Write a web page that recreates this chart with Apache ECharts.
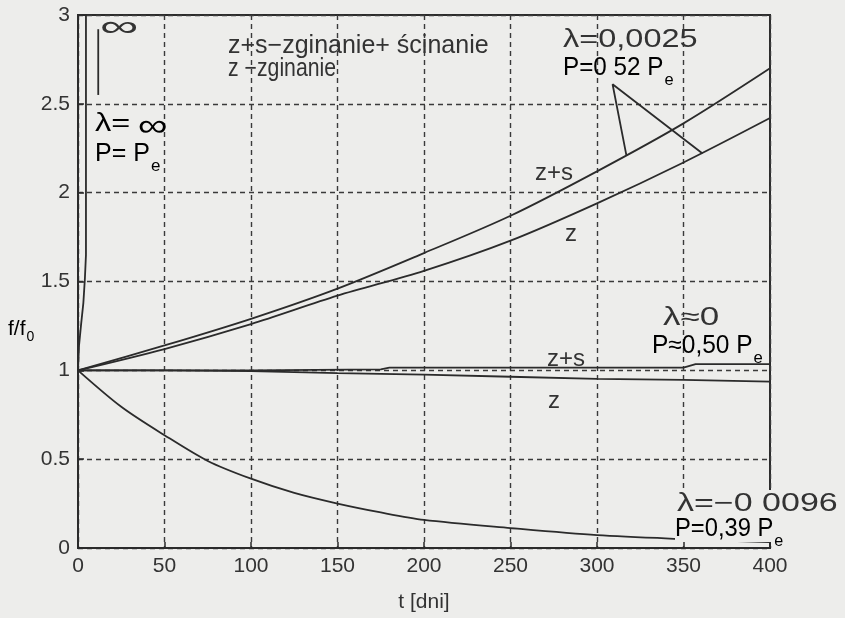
<!DOCTYPE html>
<html>
<head>
<meta charset="utf-8">
<script src="https://cdn.jsdelivr.net/npm/echarts@6/dist/echarts.min.js"></script>
<style>
  html, body { margin: 0; padding: 0; background: #ededeb; }
  #chart { width: 845px; height: 618px; }
</style>
</head>
<body>
<div id="chart"></div>
<script>
// ---- data ----
// lambda = 0.0025, P = 0.52 Pe
const tGrowth  = [0, 50, 100, 150, 200, 250, 300, 350, 400];
const zsGrowth = [1, 1.14, 1.29, 1.46, 1.66, 1.87, 2.12, 2.39, 2.70];
const zGrowth  = [1, 1.12, 1.26, 1.42, 1.56, 1.73, 1.94, 2.17, 2.42];
// lambda ~ 0, P ~ 0.50 Pe
const tZeroZs = [0, 100, 175, 180, 350, 357, 400];
const zsZero  = [1, 1.0, 1.005, 1.015, 1.015, 1.035, 1.035];
const tZeroZ  = [0, 50, 100, 150, 200, 250, 300, 350, 400];
const zZero   = [1, 1.0, 0.995, 0.984, 0.976, 0.964, 0.952, 0.946, 0.936];
// lambda = -0.0096, P = 0.39 Pe
const tDecay = [0, 25, 50, 75, 100, 125, 150, 175, 200, 250, 300, 350, 400];
const fDecay = [1, 0.795, 0.635, 0.49, 0.39, 0.31, 0.25, 0.2, 0.158, 0.112, 0.072, 0.05, 0.033];
// lambda = infinity, P = Pe
const tInf = [0, 0.6, 1.8, 3.1, 4.0, 4.6, 4.6];
const fInf = [1, 1.14, 1.26, 1.38, 1.52, 1.65, 3.0];
// "to infinity" marker and the leader lines of the 0.0025 label
const infMarkT = [11.7, 11.7];
const infMarkF = [2.55, 2.92];
const leaderT = [317, 309, 361];
const leaderF = [2.21, 2.61, 2.22];
// axes
const xMin = 0, xMax = 400, xStep = 50;
const yMin = 0, yMax = 3, yStep = 0.5;

const zip = (a, b) => a.map((v, i) => [v, b[i]]);

const INK = '#2b2b2b';
const TXT = '#333333';
const BG = '#ededeb';
const FONT = '"Liberation Sans", Arial, sans-serif';

function lineSeries(name, data, smooth) {
  return {
    name: name, type: 'line', data: data, showSymbol: false, smooth: smooth || false,
    lineStyle: { color: INK, width: 1.8 }, silent: true, z: 3
  };
}

const subRich = {
  a: { fontSize: 25, fontFamily: FONT, color: TXT },
  s: { fontSize: 17, fontFamily: FONT, color: TXT, padding: [23, 0, 0, 1] }
};
const subRichBg = {
  a: { fontSize: 25, fontFamily: FONT, color: TXT, backgroundColor: BG },
  s: { fontSize: 17, fontFamily: FONT, color: TXT, padding: [23, 0, 0, 1] }
};

function txt(text, x, y, size, scaleX, extra) {
  return {
    type: 'text', x: x, y: y, scaleX: scaleX || 1, z: 100,
    style: Object.assign({
      text: text, fill: TXT, font: size + 'px ' + FONT,
      align: 'left', verticalAlign: 'middle'
    }, extra || {})
  };
}
function subTxt(text, x, y, scaleX, rich) {
  return {
    type: 'text', x: x, y: y, scaleX: scaleX || 1, z: 100,
    style: { text: text, align: 'left', verticalAlign: 'middle', rich: rich || subRich }
  };
}

const chart = echarts.init(document.getElementById('chart'), null, { renderer: 'canvas' });
chart.setOption({
  backgroundColor: BG,
  animation: false,
  grid: { left: 78, right: 75, top: 15, bottom: 57, show: true, borderColor: INK, borderWidth: 2, backgroundColor: 'transparent' },
  xAxis: {
    type: 'value', min: xMin, max: xMax, interval: xStep,
    name: 't [dni]', nameLocation: 'middle', nameGap: 44,
    nameTextStyle: { fontSize: 21, fontFamily: FONT, color: TXT },
    axisLine: { show: true, lineStyle: { color: INK, width: 2 } },
    axisTick: { show: true, inside: true, length: 6, lineStyle: { color: INK, width: 1.5 } },
    axisLabel: { fontSize: 21, fontFamily: FONT, color: TXT, margin: 8 },
    splitLine: { show: true, lineStyle: { color: '#3a3a3a', width: 1.4, type: [5, 4] } }
  },
  yAxis: {
    type: 'value', min: yMin, max: yMax, interval: yStep,
    axisLine: { show: true, lineStyle: { color: INK, width: 2 } },
    axisTick: { show: true, inside: true, length: 6, lineStyle: { color: INK, width: 1.5 } },
    axisLabel: { fontSize: 21, fontFamily: FONT, color: TXT, margin: 8 },
    splitLine: { show: true, lineStyle: { color: '#3a3a3a', width: 1.4, type: [5, 4] } }
  },
  series: [
    lineSeries('lambda=inf', zip(tInf, fInf), false),
    lineSeries('inf marker', zip(infMarkT, infMarkF), false),
    lineSeries('z+s 0.0025', zip(tGrowth, zsGrowth), 0.3),
    lineSeries('z 0.0025', zip(tGrowth, zGrowth), 0.3),
    lineSeries('leader', zip(leaderT, leaderF), false),
    lineSeries('z+s 0', zip(tZeroZs, zsZero), false),
    lineSeries('z 0', zip(tZeroZ, zZero), false),
    lineSeries('-0.0096', zip(tDecay, fDecay), 0.3)
  ],
  graphic: [
    txt('∞', 100, 27.5, 30, 1.8),
    txt('z+s−zginanie+ ścinanie', 228, 46.5, 25, 1.0),
    txt('z −zginanie', 228, 69.5, 25, 0.85),
    {
      type: 'text', x: 95, y: 124.5, scaleX: 1.3, z: 100,
      style: {
        text: '{a|λ=}{b|∞}', align: 'left', verticalAlign: 'middle',
        rich: {
          a: { fontSize: 25, fontFamily: FONT, color: TXT },
          b: { fontSize: 32, fontFamily: FONT, color: TXT, padding: [6, 0, 0, 6] }
        }
      }
    },
    subTxt('{a|P= P}{s|e}', 95, 154.5, 1.0),
    txt('λ=0,0025', 563, 40.5, 25, 1.3),
    subTxt('{a|P=0 52 P}{s|e}', 563, 68.5, 0.97),
    txt('z+s', 535, 173.5, 24, 1.0),
    txt('z', 565, 234.5, 24, 1.0),
    txt('λ≈0', 663, 318.5, 25, 1.4),
    subTxt('{a|P≈0,50 P}{s|e}', 652, 346.5, 0.98),
    txt('z+s', 547, 359.5, 24, 1.0),
    txt('z', 548, 401.5, 24, 1.0),
    txt('λ=−0 0096', 677, 504.5, 25, 1.36, { backgroundColor: BG, padding: [2, 0, 2, 0] }),
    subTxt('{a|P=0,39 P}{s|e}', 675, 529.5, 0.95, subRichBg),
    {
      type: 'text', x: 8, y: 329, z: 100,
      style: {
        text: '{a|f/f}{s|0}', align: 'left', verticalAlign: 'middle',
        rich: {
          a: { fontSize: 21, fontFamily: FONT, color: TXT },
          s: { fontSize: 14, fontFamily: FONT, color: TXT, padding: [17, 0, 0, 1] }
        }
      }
    }
  ]
});
</script>
</body>
</html>
